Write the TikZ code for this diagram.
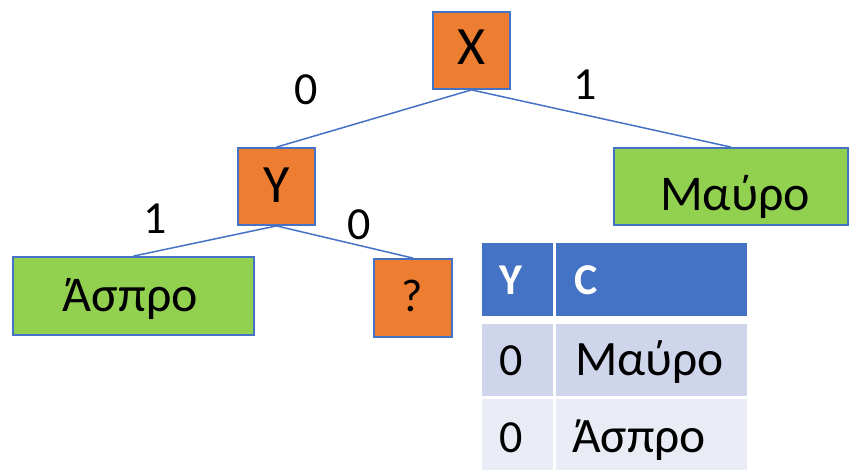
\documentclass[tikz,border=0pt]{standalone}
\usepackage{fontspec}
\setmainfont{Carlito}
\definecolor{orng}{HTML}{ED7D31}
\definecolor{grn}{HTML}{92D050}
\definecolor{edgeblue}{HTML}{4472C4}
\definecolor{hdr}{HTML}{4472C4}
\definecolor{rowa}{HTML}{CFD5EA}
\definecolor{rowb}{HTML}{E9EBF5}
\begin{document}
\begin{tikzpicture}[x=1pt,y=-1pt,
  box/.style={draw=edgeblue, line width=1.8pt, inner sep=0pt},
  leaf/.style={box, fill=grn, minimum height=77pt},
  test/.style={box, fill=orng, minimum width=77pt, minimum height=77pt},
  conn/.style={draw=edgeblue, line width=1.5pt},
  big/.style={inner sep=0pt, anchor=base, font=\fontsize{54}{60}\selectfont},
  greek/.style={inner sep=0pt, anchor=base, font=\fontsize{50}{56}\selectfont},
  lbl/.style={inner sep=0pt, anchor=base, font=\fontsize{46}{52}\selectfont},
  cell/.style={inner sep=0pt, draw=none},
  celltxt/.style={inner sep=0pt, anchor=base west, font=\fontsize{49.5}{56}\selectfont},
  headtxt/.style={inner sep=0pt, anchor=base, text=white, font=\bfseries\fontsize{44}{50}\selectfont}]
\useasboundingbox (0,0) rectangle (849,470);

% tree boxes
\node[test] (X) at (471.5,50.5) {};
\node[test] (Y) at (276.5,186.5) {};
\node[leaf, minimum width=234pt] (M) at (731,186.5) {};
\node[leaf, minimum width=241pt, minimum height=78pt] (A) at (133.5,296) {};
\node[test, minimum width=78pt, minimum height=78pt] (Q) at (413,298) {};

% box texts
\node[big] (tX) at (471.5,65) {X};
\node[big] (tY) at (276.5,203) {Y};
\node[greek] (tM) at (735,211) {Μαύρο};
\node[greek] (tA) at (130.5,311.5) {Άσπρο};
\node[lbl] (tQ) at (412,312) {?};

% connectors
\draw[conn] (X.south) -- (Y.north);
\draw[conn] (X.south) -- (M.north);
\draw[conn] (Y.south) -- (A.north);
\draw[conn] (Y.south) -- (Q.north);

% branch labels
\node[lbl] (l1) at (306,105) {0};
\node[lbl] (l2) at (585,100) {1};
\node[lbl] (l3) at (155,234) {1};
\node[lbl] (l4) at (359,240) {0};

% table
\node[cell, fill=hdr, minimum width=71pt, minimum height=73pt] (h1) at (517.5,279.5) {};
\node[cell, fill=hdr, minimum width=191pt, minimum height=73pt] (h2) at (651.5,279.5) {};
\node[cell, fill=rowa, minimum width=71pt, minimum height=72pt] (a1) at (517.5,360) {};
\node[cell, fill=rowa, minimum width=191pt, minimum height=72pt] (a2) at (651.5,360) {};
\node[cell, fill=rowb, minimum width=71pt, minimum height=75pt] (b1) at (517.5,436.5) {};
\node[cell, fill=rowb, minimum width=191pt, minimum height=75pt] (b2) at (651.5,436.5) {};

\node[headtxt] (th1) at (511,295) {Y};
\node[headtxt, anchor=base west] (th2) at (574,295) {C};
\node[lbl] (ta1) at (511,375) {0};
\node[celltxt] (ta2) at (575,375) {Μαύρο};
\node[lbl] (tb1) at (511,452) {0};
\node[celltxt] (tb2) at (572,452) {Άσπρο};
\end{tikzpicture}
\end{document}
